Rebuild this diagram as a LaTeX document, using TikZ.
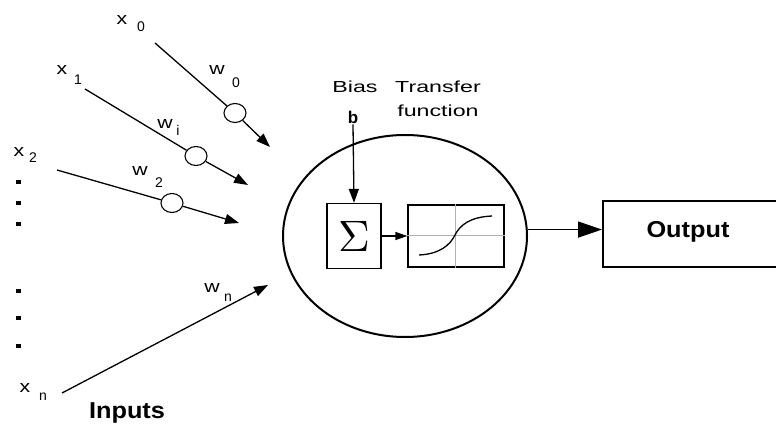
\documentclass[tikz,border=0pt]{standalone}
\usepackage{fontspec}
\setmainfont{Liberation Sans}
\usetikzlibrary{shapes.geometric,arrows.meta}
\tikzset{
  lbl/.style={inner sep=0pt, font=\fontsize{17}{17}\selectfont, xscale=1.25},
  sub/.style={inner sep=0pt, font=\fontsize{14}{14}\selectfont},
  captext/.style={inner sep=0pt, font=\fontsize{16}{16}\selectfont, xscale=1.45},
  big/.style={inner sep=0pt, font=\bfseries\fontsize{23}{23}\selectfont, xscale=1.1},
  wcirc/.style={draw, ellipse, minimum width=22pt, minimum height=19pt, inner sep=0pt, line width=1.1pt, fill=white},
  sq/.style={fill=black, minimum width=5pt, minimum height=4pt, inner sep=0pt},
  wire/.style={line width=1.3pt},
  arr/.style={line width=1.3pt, -{Triangle[length=14pt,width=10pt]}},
  boxs/.style={draw, line width=1.3pt, inner sep=0pt},
}
\begin{document}
\begin{tikzpicture}[x=1pt,y=-1pt]
\useasboundingbox (0,0) rectangle (776,427);
\clip (0,0) rectangle (776,427);

% input labels
\node[lbl] (x0) at (122,20) {x};  \node[sub] (x0s) at (141,27) {0};
\node[lbl] (x1) at (62,70) {x};   \node[sub] (x1s) at (78,80) {1};
\node[lbl] (x2) at (19,152) {x};  \node[sub] (x2s) at (33,158) {2};
\node[lbl] (xn) at (25,388) {x};  \node[sub] (xns) at (43,397) {n};

% weight labels
\node[lbl] (w0) at (217,70) {w};  \node[sub] (w0s) at (236,83) {0};
\node[lbl] (wi) at (165,124) {w}; \node[sub] (wis) at (178,130) {i};
\node[lbl] (w2) at (140,171) {w}; \node[sub] (w2s) at (159,183) {2};
\node[lbl] (wn) at (212,288) {w}; \node[sub] (wns) at (228,298) {n};

% dots
\node[sq] (d1) at (18,182) {};
\node[sq] (d2) at (18,203) {};
\node[sq] (d3) at (18,224) {};
\node[sq] (d4) at (18,291) {};
\node[sq] (d5) at (18,318) {};
\node[sq] (d6) at (18,346) {};

% connectors
\coordinate (s0) at (155,43);  \coordinate (e0) at (270,147);
\coordinate (s1) at (85,89);   \coordinate (e1) at (248,185);
\coordinate (s2) at (57,170);  \coordinate (e2) at (239,223);
\coordinate (s3) at (62,393);  \coordinate (e3) at (268,285);

\node[wcirc] (c0) at (235,113) {};
\node[wcirc] (c1) at (196,156) {};
\node[wcirc] (c2) at (172,203) {};

\draw[wire] (s0) -- (c0);
\draw[arr] (c0) -- (e0);
\draw[wire] (s1) -- (c1);
\draw[arr] (c1) -- (e1);
\draw[wire] (s2) -- (c2);
\draw[arr] (c2) -- (e2);
\draw[arr] (s3) -- (e3);

\node[big] (inputs) at (127,413) {Inputs};

% neuron
\node[draw, ellipse, minimum width=244pt, minimum height=202pt, line width=2pt] (neuron) at (405,236) {};
\node[boxs, minimum width=54pt, minimum height=65pt] (sigma) at (354,236) {\scalebox{4.4}{$\Sigma$}};
\node[boxs, minimum width=96pt, minimum height=62pt] (tf) at (456,236) {};
\draw[gray!60, line width=0.8pt] (tf.north -| 455,0) -- (tf.south -| 455,0);
\draw[gray!60, line width=0.8pt] (tf.west |- 0,235) -- (tf.east |- 0,235);
\draw[line width=1.3pt] (419,255) .. controls (440,254) and (450,245) .. (455,235)
   .. controls (460,225) and (470,217) .. (492,216);

\node[captext] (bias) at (355,87) {Bias};
\node[captext] (transfer) at (438,87) {Transfer};
\node[captext] (function) at (438,111) {function};
\node[inner sep=1pt, font=\bfseries\fontsize{17}{17}\selectfont] (b) at (353,117) {b};

\draw[arr] (b.south) -- (sigma.north);
\draw[line width=1.3pt, -{Triangle[length=12pt,width=8pt]}] (sigma.east) -- (tf.west);

% output
\node[draw, line width=1.5pt, minimum width=190pt, minimum height=66pt, anchor=west, inner sep=0pt] (outbox) at (602,234) {};
\node[big] (outtxt) at (688,232) {Output};
\draw[line width=1.5pt, -{Triangle[length=24pt,width=16pt]}] (neuron.3) -- (outbox.west |- neuron.3);
\end{tikzpicture}
\end{document}
